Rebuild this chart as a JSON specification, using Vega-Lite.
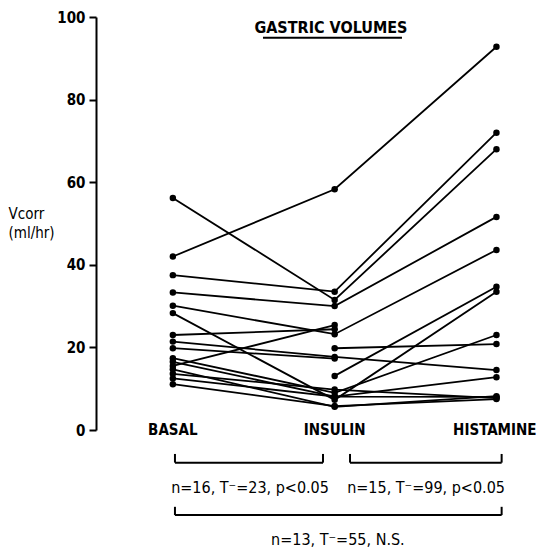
{
  "$schema": "https://vega.github.io/schema/vega-lite/v6.json",
  "autosize": {"type": "none"},
  "padding": {"left": 96, "top": 17, "right": 0, "bottom": 120},
  "width": 449,
  "height": 413,
  "background": "white",
  "config": {"view": {"stroke": null}, "font": "DejaVu Sans Condensed"},
  "datasets": {
    "obs": [
      {"subject": "S1", "phase": "BASAL", "step": 1, "v": 42.0},
      {"subject": "S1", "phase": "INSULIN", "step": 2, "v": 58.3},
      {"subject": "S1", "phase": "HISTAMINE", "step": 3, "v": 92.8},
      {"subject": "S2", "phase": "BASAL", "step": 1, "v": 56.2},
      {"subject": "S2", "phase": "INSULIN", "step": 2, "v": 31.5},
      {"subject": "S2", "phase": "HISTAMINE", "step": 3, "v": 68.0},
      {"subject": "S3", "phase": "BASAL", "step": 1, "v": 37.5},
      {"subject": "S3", "phase": "INSULIN", "step": 2, "v": 33.5},
      {"subject": "S3", "phase": "HISTAMINE", "step": 3, "v": 72.0},
      {"subject": "S4", "phase": "BASAL", "step": 1, "v": 33.3},
      {"subject": "S4", "phase": "INSULIN", "step": 2, "v": 30.0},
      {"subject": "S4", "phase": "HISTAMINE", "step": 3, "v": 51.6},
      {"subject": "S5", "phase": "BASAL", "step": 1, "v": 30.1},
      {"subject": "S5", "phase": "INSULIN", "step": 2, "v": 23.2},
      {"subject": "S5", "phase": "HISTAMINE", "step": 3, "v": 43.6},
      {"subject": "S6", "phase": "BASAL", "step": 1, "v": 28.3},
      {"subject": "S6", "phase": "INSULIN", "step": 2, "v": 7.3},
      {"subject": "S6", "phase": "HISTAMINE", "step": 3, "v": 33.5},
      {"subject": "S7", "phase": "BASAL", "step": 1, "v": 21.4},
      {"subject": "S7", "phase": "INSULIN", "step": 2, "v": 17.7},
      {"subject": "S7", "phase": "HISTAMINE", "step": 3, "v": 14.5},
      {"subject": "S8", "phase": "BASAL", "step": 1, "v": 17.4},
      {"subject": "S8", "phase": "INSULIN", "step": 2, "v": 9.0},
      {"subject": "S8", "phase": "HISTAMINE", "step": 3, "v": 23.0},
      {"subject": "S9", "phase": "BASAL", "step": 1, "v": 16.5},
      {"subject": "S9", "phase": "INSULIN", "step": 2, "v": 8.1},
      {"subject": "S9", "phase": "HISTAMINE", "step": 3, "v": 12.8},
      {"subject": "S10", "phase": "BASAL", "step": 1, "v": 14.7},
      {"subject": "S10", "phase": "INSULIN", "step": 2, "v": 5.6},
      {"subject": "S10", "phase": "HISTAMINE", "step": 3, "v": 8.2},
      {"subject": "S11", "phase": "BASAL", "step": 1, "v": 13.6},
      {"subject": "S11", "phase": "INSULIN", "step": 2, "v": 9.8},
      {"subject": "S11", "phase": "HISTAMINE", "step": 3, "v": 7.7},
      {"subject": "S12", "phase": "BASAL", "step": 1, "v": 12.5},
      {"subject": "S12", "phase": "INSULIN", "step": 2, "v": 8.1},
      {"subject": "S12", "phase": "HISTAMINE", "step": 3, "v": 8.0},
      {"subject": "S13", "phase": "BASAL", "step": 1, "v": 11.1},
      {"subject": "S13", "phase": "INSULIN", "step": 2, "v": 5.8},
      {"subject": "S13", "phase": "HISTAMINE", "step": 3, "v": 7.5},
      {"subject": "S14", "phase": "BASAL", "step": 1, "v": 23.0},
      {"subject": "S14", "phase": "INSULIN", "step": 2, "v": 24.4},
      {"subject": "S15", "phase": "BASAL", "step": 1, "v": 15.5},
      {"subject": "S15", "phase": "INSULIN", "step": 2, "v": 25.4},
      {"subject": "S16", "phase": "BASAL", "step": 1, "v": 19.8},
      {"subject": "S16", "phase": "INSULIN", "step": 2, "v": 17.3},
      {"subject": "S17", "phase": "INSULIN", "step": 2, "v": 19.8},
      {"subject": "S17", "phase": "HISTAMINE", "step": 3, "v": 20.8},
      {"subject": "S18", "phase": "INSULIN", "step": 2, "v": 13.1},
      {"subject": "S18", "phase": "HISTAMINE", "step": 3, "v": 34.7}
    ],
    "brackets": [
      {"comparison": "BASAL-INSULIN", "x1": 1.013, "x2": 1.928, "y": -7.9, "top": -5.8},
      {"comparison": "INSULIN-HISTAMINE", "x1": 2.095, "x2": 3.032, "y": -7.9, "top": -5.8},
      {"comparison": "BASAL-HISTAMINE", "x1": 1.013, "x2": 3.032, "y": -20.6, "top": -18.6}
    ],
    "underline": [
      {"x1": 1.557, "x2": 2.416, "y": 95.0}
    ],
    "notes": [
      {"text": "GASTRIC VOLUMES", "x": 1.977, "y": 97.3, "kind": "title"},
      {"text": "BASAL", "x": 1.0, "y": 0, "kind": "cat"},
      {"text": "INSULIN", "x": 2.0, "y": 0, "kind": "cat"},
      {"text": "HISTAMINE", "x": 2.99, "y": 0, "kind": "cat"},
      {"text": "n=16, T⁻=23, p<0.05", "x": 1.477, "y": -14.1, "kind": "stat"},
      {"text": "n=15, T⁻=99, p<0.05", "x": 2.565, "y": -14.1, "kind": "stat"},
      {"text": "n=13, T⁻=55, N.S.", "x": 2.02, "y": -26.6, "kind": "stat"}
    ]
  },
  "encoding": {
    "x": {"type": "quantitative", "scale": {"domain": [0.525, 3.3], "nice": false, "zero": false}, "axis": null},
    "y": {"type": "quantitative", "scale": {"domain": [0, 100], "nice": false, "zero": false}}
  },
  "layer": [
    {
      "data": {"name": "obs"},
      "mark": {"type": "line", "color": "black", "strokeWidth": 1.8, "clip": false},
      "encoding": {
        "x": {"field": "step", "type": "quantitative"},
        "y": {
          "field": "v", "type": "quantitative",
          "axis": {
            "values": [0, 20, 40, 60, 80, 100],
            "grid": false,
            "domainColor": "black", "domainWidth": 2,
            "tickColor": "black", "tickWidth": 2, "tickSize": 7,
            "labelColor": "black", "labelFontSize": 15, "labelFontWeight": "bold", "labelPadding": 4,
            "labelFont": "DejaVu Sans Condensed",
            "title": ["Vcorr", "(ml/hr)"],
            "titleAngle": 0, "titleAlign": "left", "titleBaseline": "middle",
            "titleX": -88, "titleY": 196, "titleFontSize": 15, "titleFontWeight": "normal",
            "titleLineHeight": 19, "titleColor": "black", "titleFont": "DejaVu Sans Condensed"
          }
        },
        "detail": {"field": "subject"},
        "order": {"field": "step"}
      }
    },
    {
      "data": {"name": "obs"},
      "mark": {"type": "point", "filled": true, "color": "black", "size": 42, "opacity": 1},
      "encoding": {
        "x": {"field": "step", "type": "quantitative"},
        "y": {"field": "v", "type": "quantitative"}
      }
    },
    {
      "data": {"name": "brackets"},
      "mark": {"type": "rule", "color": "black", "strokeWidth": 2},
      "encoding": {
        "x": {"field": "x1", "type": "quantitative"},
        "x2": {"field": "x2"},
        "y": {"field": "y", "type": "quantitative"}
      }
    },
    {
      "data": {"name": "brackets"},
      "mark": {"type": "rule", "color": "black", "strokeWidth": 2},
      "encoding": {
        "x": {"field": "x1", "type": "quantitative"},
        "y": {"field": "y", "type": "quantitative"},
        "y2": {"field": "top"}
      }
    },
    {
      "data": {"name": "brackets"},
      "mark": {"type": "rule", "color": "black", "strokeWidth": 2},
      "encoding": {
        "x": {"field": "x2", "type": "quantitative"},
        "y": {"field": "y", "type": "quantitative"},
        "y2": {"field": "top"}
      }
    },
    {
      "data": {"name": "underline"},
      "mark": {"type": "rule", "color": "black", "strokeWidth": 2},
      "encoding": {
        "x": {"field": "x1", "type": "quantitative"},
        "x2": {"field": "x2"},
        "y": {"field": "y", "type": "quantitative"}
      }
    },
    {
      "data": {"name": "notes"},
      "transform": [{"filter": "datum.kind == 'title'"}],
      "mark": {"type": "text", "color": "black", "fontSize": 16, "fontWeight": "bold", "baseline": "middle", "align": "center", "font": "DejaVu Sans Condensed"},
      "encoding": {
        "x": {"field": "x", "type": "quantitative"},
        "y": {"field": "y", "type": "quantitative"},
        "text": {"field": "text"}
      }
    },
    {
      "data": {"name": "notes"},
      "transform": [{"filter": "datum.kind == 'cat'"}],
      "mark": {"type": "text", "color": "black", "fontSize": 15, "fontWeight": "bold", "baseline": "middle", "align": "center", "font": "DejaVu Sans Condensed"},
      "encoding": {
        "x": {"field": "x", "type": "quantitative"},
        "y": {"field": "y", "type": "quantitative"},
        "text": {"field": "text"}
      }
    },
    {
      "data": {"name": "notes"},
      "transform": [{"filter": "datum.kind == 'stat'"}],
      "mark": {"type": "text", "color": "black", "fontSize": 16, "baseline": "middle", "align": "center", "font": "DejaVu Sans Condensed"},
      "encoding": {
        "x": {"field": "x", "type": "quantitative"},
        "y": {"field": "y", "type": "quantitative"},
        "text": {"field": "text"}
      }
    }
  ]
}
